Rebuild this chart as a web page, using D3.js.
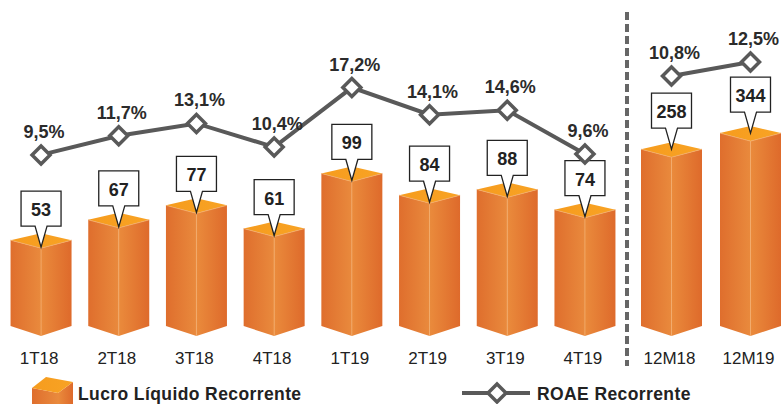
<!DOCTYPE html>
<html>
<head>
<meta charset="utf-8">
<script src="https://cdn.jsdelivr.net/npm/d3@7"></script>
<style>
  body { margin: 0; background: #fff; }
  svg { display: block; font-family: "Liberation Sans", Arial, sans-serif; }
</style>
</head>
<body>
<div class="holder"></div>
<script>
const wd = 784
const ht = 404

// data
const quarters = ["1T18", "2T18", "3T18", "4T18", "1T19", "2T19", "3T19", "4T19"]
const lucroQ = [53, 67, 77, 61, 99, 84, 88, 74]
const roaeQ = [9.5, 11.7, 13.1, 10.4, 17.2, 14.1, 14.6, 9.6]

const years = ["12M18", "12M19"]
const lucroY = [258, 344]
const roaeY = [10.8, 12.5]

const svg = d3.select(".holder").append("svg")
  .attr("width", wd)
  .attr("height", ht)

const defs = svg.append("defs")

function grad(id, c1, c2) {
  const g = defs.append("linearGradient").attr("id", id)
    .attr("x1", "0%").attr("x2", "100%").attr("y1", "0%").attr("y2", "0%")
  g.append("stop").attr("offset", "0%").attr("stop-color", c1)
  g.append("stop").attr("offset", "100%").attr("stop-color", c2)
}
grad("leftFace", "#df6e2d", "#e98a3d")
grad("rightFace", "#ea8b3c", "#de6a2b")
grad("topFace", "#f69c1e", "#f8a324")

// scales
const xQ = d3.scaleBand().domain(quarters).range([2.2, 623.8])
const xY = d3.scaleBand().domain(years).range([632, 790])

const yBarQ = d3.scaleLinear().domain([0, 100]).range([325, 180])
const yBarY = d3.scaleLinear().domain([200, 350]).range([168, 140])

const yLineQ = d3.scaleLinear().domain([9, 18]).range([159.3, 80.6])
const yLineY = d3.scaleLinear().domain([10.8, 12.5]).range([76, 62])

const base = 336
const hw = 30.5

const quarterly = quarters.map((q, i) => ({
  cat: q, lucro: lucroQ[i], roae: roaeQ[i],
  cx: xQ(q) + xQ.bandwidth() / 2, ft: yBarQ(lucroQ[i]), ly: yLineQ(roaeQ[i]), tipOff: 1
}))
const annual = years.map((q, i) => ({
  cat: q, lucro: lucroY[i], roae: roaeY[i],
  cx: xY(q) + xY.bandwidth() / 2, ft: yBarY(lucroY[i]), ly: yLineY(roaeY[i]), tipOff: 8
}))
const all = quarterly.concat(annual)

const pts = (arr) => arr.map(p => p.join(",")).join(" ")

// bars
const bars = svg.append("g").selectAll("g").data(all).enter().append("g")

bars.append("polygon")
  .attr("points", d => pts([[d.cx - hw, d.ft - 8], [d.cx, d.ft], [d.cx, base], [d.cx - hw, base - 10]]))
  .attr("fill", "url(#leftFace)")
bars.append("polygon")
  .attr("points", d => pts([[d.cx, d.ft], [d.cx + hw, d.ft - 8], [d.cx + hw, base - 10], [d.cx, base]]))
  .attr("fill", "url(#rightFace)")
bars.append("polygon")
  .attr("points", d => pts([[d.cx - hw, d.ft - 8], [d.cx, d.ft - 15], [d.cx + hw, d.ft - 8], [d.cx, d.ft]]))
  .attr("fill", "url(#topFace)")
bars.append("path")
  .attr("d", d => `M${d.cx - hw},${d.ft - 8}L${d.cx},${d.ft}L${d.cx + hw},${d.ft - 8}M${d.cx},${d.ft}V${base}`)
  .attr("fill", "none")
  .style("stroke", "#f3ac6c")
  .style("stroke-width", "0.8px")

// callouts
const bw = 40, bh = 35, gap = 21
const call = svg.append("g").selectAll("g").data(all).enter().append("g")
call.append("path")
  .attr("d", d => {
    const tip = d.ft - d.tipOff
    const y1 = tip - gap, y0 = y1 - bh
    return `M${d.cx - bw / 2},${y0}H${d.cx + bw / 2}V${y1}H${d.cx + 6}L${d.cx},${tip}L${d.cx - 6},${y1}H${d.cx - bw / 2}Z`
  })
  .attr("fill", "#fff")
  .style("stroke", "#222")
  .style("stroke-width", "1.3px")
  .style("stroke-linejoin", "miter")
call.append("text")
  .attr("x", d => d.cx)
  .attr("y", d => d.ft - d.tipOff - gap - bh + 25)
  .attr("text-anchor", "middle")
  .attr("fill", "#222")
  .style("font-size", "18px")
  .style("font-weight", "bold")
  .text(d => d.lucro)

// ROAE lines
const lineFunc = d3.line().x(d => d.cx).y(d => d.ly)
const lineGroup = svg.append("g")
;[quarterly, annual].forEach(set => {
  lineGroup.append("path")
    .attr("d", lineFunc(set))
    .attr("fill", "none")
    .style("stroke", "#595959")
    .style("stroke-width", "4px")
})

const diamond = (x, y, r) => `M${x},${y - r}L${x + r},${y}L${x},${y + r}L${x - r},${y}Z`

lineGroup.selectAll(".mark").data(all).enter().append("path")
  .attr("class", "mark")
  .attr("d", d => diamond(d.cx, d.ly, 9))
  .attr("fill", "#fff")
  .style("stroke", "#595959")
  .style("stroke-width", "3.5px")

lineGroup.selectAll(".pct").data(all).enter().append("text")
  .attr("class", "pct")
  .attr("x", d => d.cx + 3)
  .attr("y", d => d.ly - 17)
  .attr("text-anchor", "middle")
  .attr("fill", "#2b2b2b")
  .style("font-size", "18px")
  .style("font-weight", "bold")
  .text(d => d3.format(".1f")(d.roae).replace(".", ",") + "%")

// x labels
svg.append("g").selectAll("text").data(all).enter().append("text")
  .attr("x", d => d.cx - 2)
  .attr("y", 364)
  .attr("text-anchor", "middle")
  .attr("fill", "#222")
  .style("font-size", "17px")
  .text(d => d.cat)

// separator
svg.append("line")
  .attr("x1", 627).attr("x2", 627)
  .attr("y1", 12).attr("y2", 366)
  .style("stroke", "#666")
  .style("stroke-width", "4px")
  .style("stroke-dasharray", "8,4")

// legend
const leg = svg.append("g")
leg.append("polygon")
  .attr("points", pts([[32, 388], [58, 393], [58, 410], [32, 410]]))
  .attr("fill", "url(#leftFace)")
leg.append("polygon")
  .attr("points", pts([[58, 393], [73, 382], [73, 410], [58, 410]]))
  .attr("fill", "url(#rightFace)")
leg.append("polygon")
  .attr("points", pts([[32, 388], [46, 377], [73, 382], [58, 393]]))
  .attr("fill", "url(#topFace)")
leg.append("text")
  .attr("x", 78).attr("y", 400)
  .attr("fill", "#222")
  .style("font-size", "17.5px")
  .style("letter-spacing", "0.4px")
  .style("font-weight", "bold")
  .text("Lucro Líquido Recorrente")

leg.append("line")
  .attr("x1", 462).attr("x2", 530)
  .attr("y1", 393).attr("y2", 393)
  .style("stroke", "#595959")
  .style("stroke-width", "4px")
leg.append("path")
  .attr("d", diamond(497, 393, 9))
  .attr("fill", "#fff")
  .style("stroke", "#595959")
  .style("stroke-width", "3.5px")
leg.append("text")
  .attr("x", 537).attr("y", 400)
  .attr("fill", "#222")
  .style("font-size", "17.5px")
  .style("letter-spacing", "0.4px")
  .style("font-weight", "bold")
  .text("ROAE Recorrente")
</script>
</body>
</html>
